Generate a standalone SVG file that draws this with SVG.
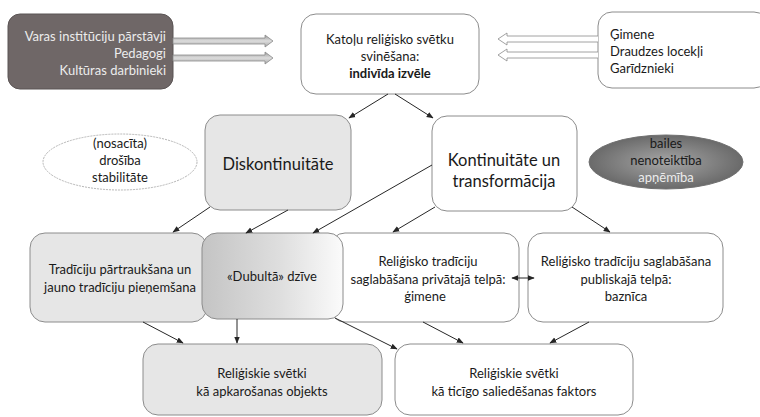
<svg xmlns="http://www.w3.org/2000/svg" width="760" height="417" viewBox="0 0 760 417">
<style>
text{font-family:Lato,"Liberation Sans",sans-serif;font-size:13px;fill:#1a1a1a}
.box{stroke:#8c8c8c;stroke-width:1}
.w{fill:#ffffff}
.g{fill:#e6e6e6}
.c{stroke:#262626;stroke-width:1;fill:none;marker-end:url(#ah)}
.big{font-size:16.5px}
.lt{fill:#ececec}
</style>
<defs>
<marker id="ah" viewBox="0 0 10 10" refX="9" refY="5" markerWidth="7" markerHeight="7" orient="auto-start-reverse" markerUnits="userSpaceOnUse">
<path d="M0,1 L10,5 L0,9 z" fill="#262626"/>
</marker>
<linearGradient id="dub" x1="0" y1="0" x2="1" y2="0">
<stop offset="0" stop-color="#c4c4c4"/>
<stop offset="0.55" stop-color="#dedede"/>
<stop offset="1" stop-color="#fbfbfb"/>
</linearGradient>
<radialGradient id="ell" cx="0.5" cy="0.5" r="0.5">
<stop offset="0" stop-color="#a6a6a6"/>
<stop offset="1" stop-color="#6a6a6a"/>
</radialGradient>
<linearGradient id="blk" x1="0" y1="0" x2="0" y2="1">
<stop offset="0" stop-color="#9a9a9a"/>
<stop offset="0.5" stop-color="#dcdcdc"/>
<stop offset="1" stop-color="#a8a8a8"/>
</linearGradient>
</defs>

<g id="n-vara">
<rect x="8" y="14" width="165" height="75" rx="12" fill="#6f6767" stroke="#5a5454"/>
<text x="166" y="41" text-anchor="end" class="lt">Varas institūciju pārstāvji</text>
<text x="166" y="58" text-anchor="end" class="lt">Pedagogi</text>
<text x="166" y="75" text-anchor="end" class="lt">Kultūras darbinieki</text>
</g>

<g id="n-katolu">
<rect x="301" y="14" width="178" height="80" rx="15" class="box w"/>
<text x="390" y="44" text-anchor="middle">Katoļu reliģisko svētku</text>
<text x="390" y="61" text-anchor="middle">svinēšana:</text>
<text x="390" y="78" text-anchor="middle" font-weight="bold">indivīda izvēle</text>
</g>

<g id="n-gimene">
<rect x="598" y="12" width="170" height="76" rx="14" class="box w"/>
<text x="610" y="39">Ģimene</text>
<text x="610" y="56">Draudzes locekļi</text>
<text x="610" y="73">Garīdznieki</text>
</g>

<g id="n-drosiba">
<ellipse cx="120" cy="162" rx="77" ry="28" fill="#ffffff" stroke="#b5b5b5" stroke-dasharray="2 1"/>
<text x="120" y="148" text-anchor="middle">(nosacīta)</text>
<text x="120" y="165" text-anchor="middle">drošība</text>
<text x="120" y="182" text-anchor="middle">stabilitāte</text>
</g>

<g id="n-diskont">
<rect x="205" y="115" width="146" height="95" rx="15" class="box g"/>
<text x="278" y="170" text-anchor="middle" class="big">Diskontinuitāte</text>
</g>

<g id="n-kontin">
<rect x="432" y="116" width="145" height="95" rx="15" class="box w"/>
<text x="504" y="166" text-anchor="middle" class="big">Kontinuitāte un</text>
<text x="504" y="187" text-anchor="middle" class="big">transformācija</text>
</g>

<g id="n-bailes">
<ellipse cx="666" cy="162" rx="77" ry="27" fill="url(#ell)" stroke="#707070"/>
<text x="666" y="148" text-anchor="middle">bailes</text>
<text x="666" y="165" text-anchor="middle">nenoteiktība</text>
<text x="666" y="182" text-anchor="middle" class="lt">apņēmība</text>
</g>

<g id="n-privata">
<rect x="330" y="233" width="189" height="89" rx="15" class="box w"/>
<text x="428" y="266" text-anchor="middle">Reliģisko tradīciju</text>
<text x="428" y="284" text-anchor="middle">saglabāšana privātajā telpā:</text>
<text x="425" y="301" text-anchor="middle">ģimene</text>
</g>

<g id="n-partrauk">
<rect x="30" y="233" width="177" height="89" rx="15" class="box g"/>
<text x="120" y="274" text-anchor="middle">Tradīciju pārtraukšana un</text>
<text x="120" y="292" text-anchor="middle">jauno tradīciju pieņemšana</text>
</g>

<g id="n-dubulta">
<rect x="202" y="233" width="141" height="86" rx="15" fill="url(#dub)" stroke="#8c8c8c"/>
<text x="272" y="281" text-anchor="middle">«Dubultā» dzīve</text>
</g>

<g id="n-publiska">
<rect x="528" y="233" width="195" height="89" rx="15" class="box w"/>
<text x="626" y="266" text-anchor="middle">Reliģisko tradīciju saglabāšana</text>
<text x="626" y="284" text-anchor="middle">publiskajā telpā:</text>
<text x="626" y="301" text-anchor="middle">baznīca</text>
</g>

<g id="n-apkaros">
<rect x="143" y="344" width="239" height="71" rx="15" class="box g"/>
<text x="262" y="378" text-anchor="middle">Reliģiskie svētki</text>
<text x="262" y="396" text-anchor="middle">kā apkarošanas objekts</text>
</g>

<g id="n-saliedes">
<rect x="395" y="344" width="238" height="71" rx="15" class="box w"/>
<text x="514" y="378" text-anchor="middle">Reliģiskie svētki</text>
<text x="514" y="396" text-anchor="middle">kā ticīgo saliedēšanas faktors</text>
</g>

<g id="connectors">
<path d="M173,38 H265 V35 L273,41 L265,47 V44 H173 Z" fill="url(#blk)" stroke="#8a8a8a" stroke-width="0.8"/>
<path d="M173,55 H265 V52 L273,58 L265,64 V61 H173 Z" fill="url(#blk)" stroke="#8a8a8a" stroke-width="0.8"/>
<path d="M598,36 H507 V33 L498,39 L507,45 V42 H598" fill="#ffffff" stroke="#8a8a8a" stroke-width="0.8"/>
<path d="M598,52 H507 V49 L498,55 L507,61 V58 H598" fill="#ffffff" stroke="#8a8a8a" stroke-width="0.8"/>
<line x1="388" y1="94" x2="349" y2="118" class="c"/>
<line x1="395" y1="94" x2="433" y2="118" class="c"/>
<line x1="210" y1="207" x2="173" y2="232" class="c"/>
<line x1="288" y1="210" x2="246" y2="233" class="c"/>
<line x1="432" y1="165" x2="313" y2="233" class="c"/>
<line x1="435" y1="207" x2="393" y2="232" class="c"/>
<line x1="572" y1="207" x2="610" y2="232" class="c"/>
<line x1="143" y1="322" x2="183" y2="343" class="c"/>
<line x1="237" y1="319" x2="237" y2="343" class="c"/>
<line x1="335" y1="318" x2="397" y2="349" class="c"/>
<line x1="423" y1="322" x2="463" y2="343" class="c"/>
<line x1="589" y1="322" x2="550" y2="343" class="c"/>
<line x1="512" y1="278" x2="534" y2="278" class="c" marker-start="url(#ah)"/>
</g>
</svg>
